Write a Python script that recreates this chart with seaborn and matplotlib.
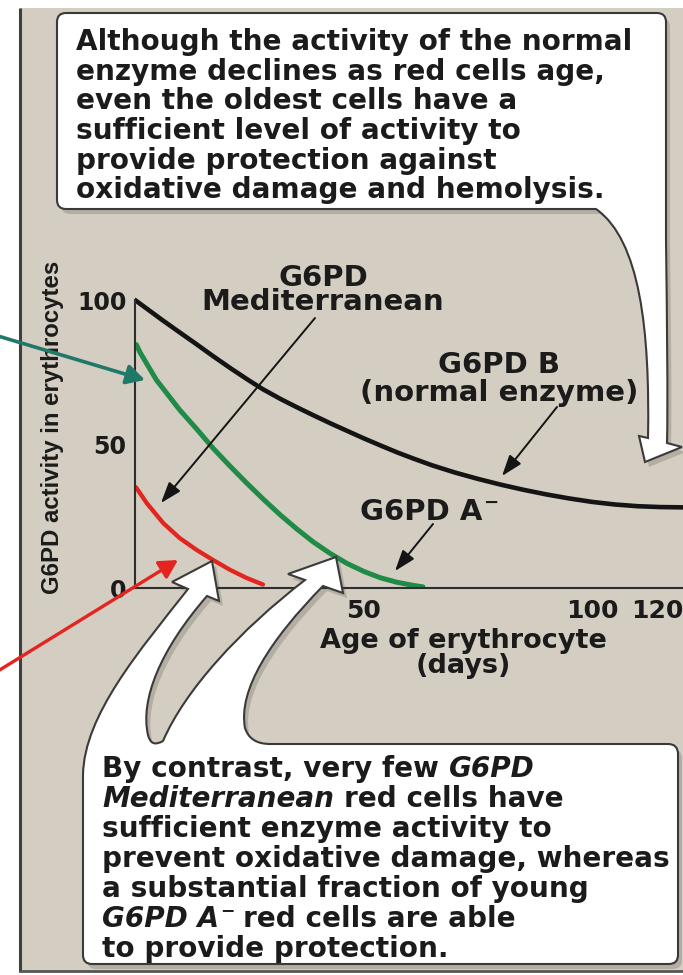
import numpy as np
import pandas as pd
import matplotlib
matplotlib.use("Agg")
import matplotlib.pyplot as plt
from matplotlib.path import Path
from matplotlib.patches import PathPatch, Rectangle
from matplotlib.ticker import MultipleLocator, FixedLocator
from matplotlib import font_manager
import seaborn as sns

# ---------------- data ----------------
normal_days = [0, 3, 6, 10, 13.5, 17, 21, 25, 28, 32, 35.5, 39, 43, 46.5, 50, 54,
               57.5, 61, 65, 70, 75, 80, 85, 90, 95, 100, 105, 110, 115, 120]
normal_activity = [100, 96.5, 93, 88.5, 84.6, 80.6, 76.2, 72.0, 69.0, 65.5, 62.7, 60.0,
                   57.0, 54.5, 52.0, 49.3, 47.0, 44.9, 42.6, 40.1, 37.9, 35.9, 34.1,
                   32.5, 31.1, 29.9, 29.0, 28.4, 28.1, 28.0]

a_minus_days = [0.3, 1.1, 4.7, 9.8, 13.5, 17.1, 20.8, 24.4, 28.1, 31.7, 35.4, 39,
                42.7, 46.3, 50, 53.6, 57.3, 60.9, 63]
a_minus_activity = [84.5, 81.8, 72.2, 61.8, 55.2, 48.5, 42.3, 36.5, 30.8, 25.5, 20.5,
                    16.0, 12.0, 8.6, 5.8, 3.6, 2.0, 0.9, 0.4]

med_days = [0.2, 2.6, 6.2, 9.8, 13.5, 17.1, 20.8, 24.4, 28]
med_activity = [35, 29.4, 22.5, 17.3, 13.2, 9.7, 6.3, 3.5, 1.2]

series_names = ["G6PD B", "G6PD A-", "G6PD Mediterranean"]
series_colors = ["#141414", "#1f8b47", "#e3241f"]
series_widths = [3.3, 3.6, 3.1]

y_ticks = [0, 50, 100]
y_tick_labels = ["0", "50", "100"]
x_ticks = [50, 100, 120]
x_tick_labels = ["50", "100", "120"]

top_lines = ["Although the activity of the normal",
             "enzyme declines as red cells age,",
             "even the oldest cells have a",
             "sufficient level of activity to",
             "provide protection against",
             "oxidative damage and hemolysis."]

bottom_lines = [
    [("By contrast, very few ", "n"), ("G6PD", "i")],
    [("Mediterranean", "i"), (" red cells have", "n")],
    [("sufficient enzyme activity to", "n")],
    [("prevent oxidative damage, whereas", "n")],
    [("a substantial fraction of young", "n")],
    [("G6PD A", "i"), ("\u2212", "sup"), (" red cells are able", "n")],
    [("to provide protection.", "n")],
]

# ---------------- figure set-up ----------------
sns.set_style("white")
plt.rcParams["font.family"] = ["DejaVu Sans"]

W, H = 683, 975
fig = plt.figure(figsize=(W / 100, H / 100), dpi=100)
fig.patch.set_facecolor("white")

TXT = "#1b1b1b"
EDGE = "#3a3a3a"
PANEL = "#d4cdc1"


def px_axes(z):
    a = fig.add_axes([0, 0, 1, 1], zorder=z)
    a.set_xlim(0, W)
    a.set_ylim(H, 0)
    a.axis("off")
    a.patch.set_alpha(0)
    return a


bg = px_axes(0)
bg.add_patch(Rectangle((20, 8), 680, 964, fc=PANEL, ec="none"))
bg.plot([20, 20], [8, 972], color="#3f3f3f", lw=2.2, solid_capstyle="butt")
bg.plot([20, 690], [971, 971], color="#555555", lw=2.0)

# ---------------- chart ----------------
PX_DAY = 4.57
PX_UNIT = 2.88
X0_PX, Y0_PX = 135, 588
ax_w = 553
ax_h = 104 * PX_UNIT
ax = fig.add_axes([X0_PX / W, (H - Y0_PX) / H, ax_w / W, ax_h / H], zorder=1)
ax.patch.set_alpha(0)

df = pd.concat([
    pd.DataFrame({"day": normal_days, "activity": normal_activity, "enzyme": series_names[0]}),
    pd.DataFrame({"day": a_minus_days, "activity": a_minus_activity, "enzyme": series_names[1]}),
    pd.DataFrame({"day": med_days, "activity": med_activity, "enzyme": series_names[2]}),
], ignore_index=True)

sns.lineplot(data=df, x="day", y="activity", hue="enzyme", hue_order=series_names,
             palette=dict(zip(series_names, series_colors)), estimator=None,
             sort=False, legend=False, ax=ax)
for ln, lw in zip(ax.lines, series_widths):
    ln.set_linewidth(lw)
    ln.set_solid_capstyle("round")
    ln.set_solid_joinstyle("round")

ax.set_xlim(0, ax_w / PX_DAY)
ax.set_ylim(0, 104)
for s in ["top", "right"]:
    ax.spines[s].set_visible(False)
for s in ["left", "bottom"]:
    ax.spines[s].set_color("#2e2e2e")
    ax.spines[s].set_linewidth(1.5)
ax.spines["left"].set_bounds(0, 100)

ax.xaxis.set_major_locator(FixedLocator(x_ticks))
ax.set_xticklabels(x_tick_labels)
ax.xaxis.set_minor_locator(MultipleLocator(10))
ax.yaxis.set_major_locator(FixedLocator(y_ticks))
ax.set_yticklabels(y_tick_labels)
ax.yaxis.set_minor_locator(MultipleLocator(10))
ax.tick_params(axis="x", which="major", direction="in", length=10, width=1.4,
               pad=8, labelsize=18, colors="#2e2e2e", labelcolor=TXT)
ax.tick_params(axis="x", which="minor", direction="in", length=4, width=1.2, colors="#2e2e2e")
ax.tick_params(axis="y", which="major", direction="in", length=6, width=1.4,
               pad=6, labelsize=17, colors="#2e2e2e", labelcolor=TXT)
ax.tick_params(axis="y", which="minor", direction="in", length=5, width=1.2, colors="#2e2e2e")
for lab in ax.get_xticklabels() + ax.get_yticklabels():
    lab.set_fontweight("bold")
ax.get_xticklabels()[-1].set_horizontalalignment("right")

ax.set_xlabel("Age of erythrocyte\n(days)", fontsize=19.5, fontweight="bold",
              color=TXT, linespacing=0.95)
ax.xaxis.set_label_coords((463 - X0_PX) / ax_w, (Y0_PX - 628) / ax_h)

names = {f.name for f in font_manager.fontManager.ttflist}
if "Liberation Sans Narrow" in names:
    yl_font, yl_size = "Liberation Sans Narrow", 20.5
else:
    yl_font, yl_size = "Liberation Sans", 17.3
ax.set_ylabel("G6PD activity in erythrocytes", fontsize=yl_size, fontweight="bold",
              fontfamily=yl_font, color=TXT)
ax.yaxis.set_label_coords((64 - X0_PX) / ax_w, (Y0_PX - 427) / ax_h)

# ---------------- foreground: boxes, callout arrows, labels ----------------
fg = px_axes(2)

M, L, C3, C4, CL = Path.MOVETO, Path.LINETO, Path.CURVE3, Path.CURVE4, Path.CLOSEPOLY

bottom_shape = [
    ((83, 955), M), ((83, 775), L),
    ((84, 715), C4), ((140, 650), C4), ((188, 589), C4),
    ((172, 582), L), ((212, 561), L), ((219, 601), L), ((207, 596), L),
    ((160, 650), C4), ((140, 700), C4), ((148, 735), C4),
    ((151, 748), C3), ((163, 741), C3),
    ((185, 690), C4), ((240, 630), C4), ((305, 580), C4),
    ((288, 574), L), ((336, 557), L), ((343, 593), L), ((323, 586), L),
    ((270, 640), C4), ((238, 690), C4), ((245, 728), C4),
    ((250, 744), C3), ((270, 744), C3),
    ((668, 744), L), ((678, 744), C3), ((678, 754), C3),
    ((678, 955), L), ((678, 964), C3), ((669, 964), C3),
    ((92, 964), L), ((83, 964), C3), ((83, 955), C3),
    ((83, 955), CL),
]
top_shape = [
    ((57, 22), M), ((57, 13), C3), ((66, 13), C3),
    ((657, 13), L), ((666, 13), C3), ((666, 22), C3),
    ((666, 240), L),
    ((667, 320), C4), ((668, 400), C4), ((667, 443), C4),
    ((682, 447), L), ((645, 462), L), ((639, 436), L), ((648, 438), L),
    ((650, 330), C4), ((640, 240), C4), ((596, 209), C4),
    ((66, 209), L), ((57, 209), C3), ((57, 200), C3),
    ((57, 22), CL),
]


def make_path(spec, dx=0, dy=0):
    verts = [(x + dx, y + dy) for (x, y), _ in spec]
    codes = [c for _, c in spec]
    return Path(verts, codes)


for spec in (top_shape, bottom_shape):
    bg.add_patch(PathPatch(make_path(spec, 4, 5), fc="#8e887d", ec="none", alpha=0.45, zorder=3))
    fg.add_patch(PathPatch(make_path(spec), fc="white", ec=EDGE, lw=1.5, zorder=1))

# thin pointer arrows
thin = dict(arrowstyle="-|>,head_length=0.8,head_width=0.28", lw=1.4, color="#141414",
            mutation_scale=16, shrinkA=0, shrinkB=0)
fg.annotate("", xy=(161, 503), xytext=(315, 318), arrowprops=thin, zorder=5)
fg.annotate("", xy=(502, 476), xytext=(557, 407), arrowprops=thin, zorder=5)
fg.annotate("", xy=(395, 571), xytext=(433, 524), arrowprops=thin, zorder=5)

# coloured arrows from the left margin
fg.annotate("", xy=(145, 380), xytext=(-2, 336),
            arrowprops=dict(arrowstyle="-|>,head_length=0.55,head_width=0.3", lw=2.6,
                            color="#1f7868", mutation_scale=20, shrinkA=0, shrinkB=0), zorder=5)
fg.annotate("", xy=(178, 560), xytext=(-2, 671),
            arrowprops=dict(arrowstyle="-|>,head_length=0.55,head_width=0.3", lw=2.4,
                            color="#e3241f", mutation_scale=20, shrinkA=0, shrinkB=0), zorder=5)

renderer = fig.canvas.get_renderer()
BOX_FS = 20.1
base = dict(fontsize=BOX_FS, fontweight="bold", color=TXT, va="baseline", zorder=6)


def text_w(s, **kw):
    t = fg.text(0, 0, s, **kw)
    w = t.get_window_extent(renderer).width
    t.remove()
    return w


def ascent_px(**kw):
    k = dict(kw)
    k["va"] = "baseline"
    t = fg.text(0, 500, "lp", **k)
    bb = t.get_window_extent(renderer)
    y_disp = fg.transData.transform((0, 500))[1]
    t.remove()
    return bb.y1 - y_disp


def seg_kw(style, kw):
    k = dict(kw)
    dy = 0
    if style == "i":
        k["fontstyle"] = "italic"
    elif style == "sup":
        k["fontsize"] = kw["fontsize"] * 0.62
        dy = -kw["fontsize"] * 100 / 72 * 0.42
    return k, dy


def segs_width(segs, kw):
    sp = text_w("n n", **kw) - text_w("nn", **kw)
    tot = 0
    for s, st in segs:
        k, _ = seg_kw(st, kw)
        lead = len(s) - len(s.lstrip(" "))
        trail = len(s) - len(s.rstrip(" "))
        tot += (lead + trail) * sp + text_w(s.strip(), **k)
    return tot


def draw_segs(x, y, segs, kw, ha="left"):
    sp = text_w("n n", **kw) - text_w("nn", **kw)
    if ha == "center":
        x -= segs_width(segs, kw) / 2
    for s, st in segs:
        k, dy = seg_kw(st, kw)
        lead = len(s) - len(s.lstrip(" "))
        trail = len(s) - len(s.rstrip(" "))
        x += lead * sp
        core = s.strip()
        fg.text(x + (1 if st == "sup" else 0), y + dy, core, **k)
        x += text_w(core, **k) + trail * sp


# top box text
for i, line in enumerate(top_lines):
    fg.text(76, 50 + i * 29.7, line, **base)

# bottom box text
for i, segs in enumerate(bottom_lines):
    draw_segs(102, 777 + i * 30, segs, base)

# curve labels (two-line labels as one text each; first baseline given)
LAB_FS = 21
lab = dict(fontsize=LAB_FS, fontweight="bold", color=TXT, zorder=6)
asc = ascent_px(**lab)


def two_line(xc, base1, txt, ls):
    fg.text(xc, base1 - asc, txt, ha="center", va="top", multialignment="center",
            linespacing=ls, **lab)


two_line(323, 286, "G6PD\nMediterranean", 0.82)
two_line(499, 373, "G6PD B\n(normal enzyme)", 0.98)
lab2 = dict(lab, va="baseline")
draw_segs(429, 520, [("G6PD A", "n"), ("\u2212", "sup")], lab2, ha="center")

fig.savefig("out.png", dpi=100, facecolor="white")
